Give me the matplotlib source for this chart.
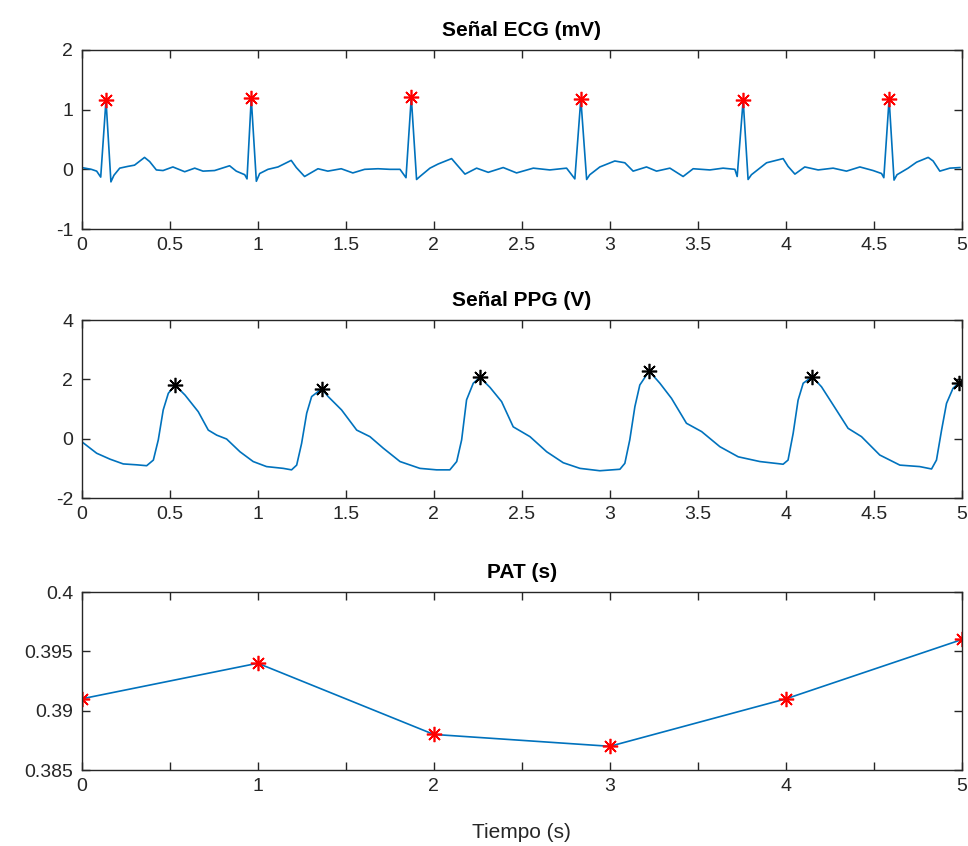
import matplotlib
matplotlib.use('Agg')
import matplotlib.pyplot as plt

# ECG (mV)
ecg_t = [0.0, 0.055, 0.085, 0.108, 0.138, 0.166, 0.183, 0.216, 0.263, 0.30, 0.357, 0.386, 0.424, 0.462,
         0.518, 0.585, 0.642, 0.689, 0.755, 0.840, 0.878, 0.926, 0.939, 0.963, 0.992, 1.011, 1.058,
         1.115, 1.19, 1.219, 1.266, 1.342, 1.398, 1.474, 1.54, 1.607, 1.683, 1.751, 1.808, 1.842,
         1.872, 1.902, 1.921, 1.978, 2.025, 2.101, 2.13, 2.177, 2.243, 2.309, 2.394, 2.47, 2.565,
         2.659, 2.754, 2.801, 2.835, 2.868, 2.886, 2.943, 3.028, 3.085, 3.132, 3.208, 3.265, 3.341,
         3.416, 3.473, 3.568, 3.643, 3.71, 3.723, 3.757, 3.785, 3.804, 3.89, 3.984, 4.012, 4.051,
         4.107, 4.183, 4.268, 4.344, 4.42, 4.495, 4.543, 4.556, 4.586, 4.614, 4.631, 4.694, 4.742,
         4.808, 4.836, 4.874, 4.931, 4.988]
ecg_v = [0.03, 0.0, -0.03, -0.13, 1.16, -0.21, -0.10, 0.02, 0.05, 0.07, 0.20, 0.13, -0.01, -0.02,
         0.04, -0.04, 0.02, -0.03, -0.02, 0.06, -0.03, -0.09, -0.16, 1.19, -0.20, -0.07, 0.0,
         0.04, 0.15, 0.03, -0.12, 0.01, -0.03, 0.01, -0.06, 0.0, 0.01, 0.0, 0.0, -0.14,
         1.21, -0.17, -0.12, 0.02, 0.09, 0.18, 0.08, -0.08, 0.02, -0.05, 0.03, -0.06, 0.02,
         -0.01, 0.02, -0.16, 1.18, -0.17, -0.09, 0.04, 0.14, 0.11, -0.03, 0.04, -0.03, 0.02,
         -0.12, 0.01, -0.01, 0.02, 0.0, -0.12, 1.16, -0.17, -0.09, 0.11, 0.18, 0.05, -0.08,
         0.04, -0.01, 0.02, -0.03, 0.04, -0.02, -0.07, -0.14, 1.18, -0.18, -0.09, 0.02, 0.12,
         0.20, 0.14, -0.03, 0.02, 0.03]
r_t = [0.138, 0.963, 1.872, 2.835, 3.757, 4.586]
r_v = [1.16, 1.19, 1.21, 1.18, 1.16, 1.18]

# PPG (V)
ppg_t = [0.0, 0.085, 0.161, 0.236, 0.312, 0.369, 0.407, 0.435, 0.463, 0.492, 0.530, 0.587, 0.662,
         0.719, 0.767, 0.823, 0.899, 0.974, 1.05, 1.145, 1.192, 1.221, 1.249, 1.278, 1.306, 1.363,
         1.40, 1.476, 1.562, 1.637, 1.713, 1.808, 1.921, 2.016, 2.091, 2.13, 2.158, 2.186, 2.224,
         2.262, 2.319, 2.385, 2.451, 2.546, 2.641, 2.735, 2.83, 2.943, 3.057, 3.085, 3.113, 3.142,
         3.17, 3.223, 3.284, 3.35, 3.435, 3.521, 3.625, 3.729, 3.852, 3.984, 4.012, 4.041, 4.069,
         4.098, 4.149, 4.202, 4.268, 4.353, 4.429, 4.533, 4.647, 4.76, 4.827, 4.855, 4.884, 4.912,
         4.949, 4.984]
ppg_v = [-0.10, -0.49, -0.69, -0.85, -0.88, -0.91, -0.72, -0.04, 0.97, 1.53, 1.81, 1.47, 0.91,
         0.29, 0.12, -0.01, -0.44, -0.77, -0.94, -1.0, -1.05, -0.89, -0.16, 0.86, 1.42, 1.68,
         1.42, 0.97, 0.29, 0.07, -0.32, -0.77, -1.0, -1.05, -1.05, -0.77, -0.04, 1.31, 1.87,
         2.07, 1.73, 1.25, 0.40, 0.07, -0.44, -0.81, -1.0, -1.08, -1.03, -0.83, -0.04, 1.08,
         1.81, 2.28, 1.87, 1.36, 0.52, 0.24, -0.27, -0.61, -0.77, -0.86, -0.72, 0.18, 1.30,
         1.87, 2.09, 1.75, 1.14, 0.35, 0.07, -0.55, -0.89, -0.94, -1.02, -0.72, 0.29, 1.19,
         1.70, 1.89]
pk_t = [0.530, 1.363, 2.262, 3.223, 4.149, 4.984]
pk_v = [1.81, 1.68, 2.07, 2.28, 2.09, 1.89]

# PAT (s)
pat_t = [0, 1, 2, 3, 4, 5]
pat_v = [0.391, 0.394, 0.388, 0.387, 0.391, 0.396]

azul = '#0072BD'
gris = '#262626'
asterisco = (8, 2, 0)
plt.rcParams['font.family'] = ['Liberation Sans', 'DejaVu Sans']
plt.rcParams['axes.unicode_minus'] = False

fig = plt.figure(figsize=(9.68, 8.46), dpi=100)
ax1 = fig.add_axes([0.0844, 0.7293, 0.9094, 0.2116])
ax2 = fig.add_axes([0.0844, 0.4113, 0.9094, 0.2104])
ax3 = fig.add_axes([0.0844, 0.0898, 0.9094, 0.2104])


def estilo(ax):
    ax.tick_params(direction='in', top=True, right=True, length=6, width=1,
                   colors=gris, labelsize=14, pad=6)
    for s in ax.spines.values():
        s.set_color(gris)
        s.set_linewidth(1)


ax1.plot(ecg_t, ecg_v, color=azul, lw=1.2)
ax1.plot(r_t, r_v, ls='none', marker=asterisco, ms=11, mew=1.2, color='red')
ax1.set_xlim(0, 5)
ax1.set_ylim(-1, 2)
ax1.set_xticks([i * 0.5 for i in range(11)])
ax1.set_xticklabels(['0', '0.5', '1', '1.5', '2', '2.5', '3', '3.5', '4', '4.5', '5'])
ax1.set_yticks([-1, 0, 1, 2])
ax1.set_title('Señal ECG (mV)', fontsize=15, fontweight='bold', pad=10)
estilo(ax1)

ax2.plot(ppg_t, ppg_v, color=azul, lw=1.2)
ax2.plot(pk_t, pk_v, ls='none', marker=asterisco, ms=11, mew=1.2, color='black')
ax2.set_xlim(0, 5)
ax2.set_ylim(-2, 4)
ax2.set_xticks([i * 0.5 for i in range(11)])
ax2.set_xticklabels(['0', '0.5', '1', '1.5', '2', '2.5', '3', '3.5', '4', '4.5', '5'])
ax2.set_yticks([-2, 0, 2, 4])
ax2.set_title('Señal PPG (V)', fontsize=15, fontweight='bold', pad=10)
estilo(ax2)

ax3.plot(pat_t, pat_v, color=azul, lw=1.2, marker=asterisco, ms=11, mew=1.2,
         mec='red', mfc='red')
ax3.set_xlim(0, 5)
ax3.set_ylim(0.385, 0.4)
ax3.set_xticks([i * 0.5 for i in range(11)])
ax3.set_xticklabels(['0', '', '1', '', '2', '', '3', '', '4', '', '5'])
ax3.set_yticks([0.385, 0.39, 0.395, 0.4])
ax3.set_yticklabels(['0.385', '0.39', '0.395', '0.4'])
ax3.set_title('PAT (s)', fontsize=15, fontweight='bold', pad=10)
ax3.set_xlabel('Tiempo (s)', fontsize=15, color=gris, labelpad=20)
estilo(ax3)

fig.savefig('out.png', dpi=100)
